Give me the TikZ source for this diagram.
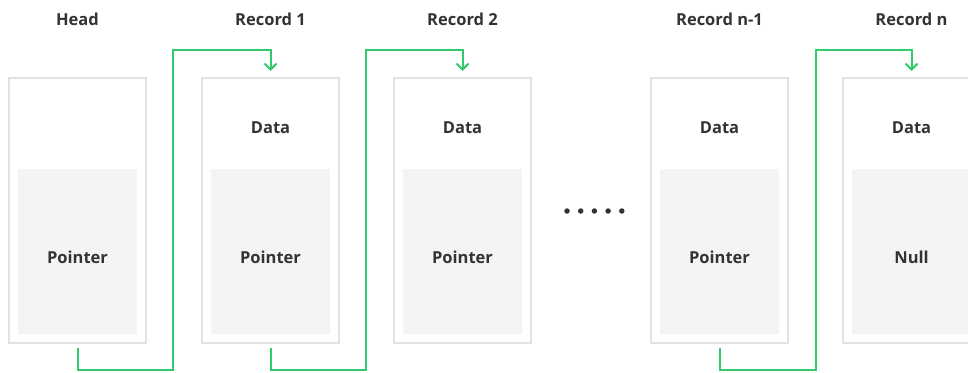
\documentclass[tikz,border=0pt]{standalone}
\usepackage{fontspec}
\setmainfont{Open Sans}
\usetikzlibrary{arrows.meta}
\definecolor{boxline}{HTML}{E2E2E2}
\definecolor{cellfill}{HTML}{F4F4F4}
\definecolor{linkgreen}{HTML}{2FCB6C}
\definecolor{ink}{HTML}{333333}
\tikzset{
  record/.style={draw=boxline, line width=1.8pt, fill=white, minimum width=137pt, minimum height=265pt, inner sep=0pt, outer sep=0pt},
  cell/.style={fill=cellfill, minimum width=119pt, minimum height=165pt, inner sep=0pt},
  lbl/.style={text=ink, font=\fontsize{16.5}{18}\selectfont\bfseries, anchor=base, inner sep=0pt},
  link/.style={draw=linkgreen, line width=2pt},
  linkarrow/.style={link, -{Straight Barb[length=6pt, width=12pt, line width=2pt]}},
  dot/.style={circle, fill=ink, minimum size=5.5pt, inner sep=0pt}
}
\begin{document}
\begin{tikzpicture}[x=1pt, y=-1pt]
\useasboundingbox (0,0) rectangle (968,372);
\begin{scope}
\clip (0,0) rectangle (968,372);
% records: left edge x positions; the shaded cell holds the pointer field
\foreach \name/\xl in {head/9, r1/202, r2/394, rn1/651, rn/843} {
  \node[record, anchor=north west] (\name) at (\xl,78) {};
  \node[cell, anchor=north] (\name c) at ([yshift=-91pt]\name.north) {};
}
\end{scope}

% titles
\node[lbl] (thead) at (head.north |- 0,25) {Head};
\node[lbl] (tr1)   at (r1.north |- 0,25) {Record 1};
\node[lbl] (tr2)   at (r2.north |- 0,25) {Record 2};
\node[lbl] (trn1)  at (rn1.north |- 0,25) {Record n-1};
\node[lbl] (trn)   at (rn.north |- 0,25) {Record n};

% field labels
\node[lbl] (dr1)  at (r1.north |- 0,133) {Data};
\node[lbl] (dr2)  at (r2.north |- 0,133) {Data};
\node[lbl] (drn1) at (rn1.north |- 0,133) {Data};
\node[lbl] (drn)  at (rn.north |- 0,133) {Data};
\node[lbl] (phead) at (head.north |- 0,263) {Pointer};
\node[lbl] (pr1)   at (r1.north |- 0,263) {Pointer};
\node[lbl] (pr2)   at (r2.north |- 0,263) {Pointer};
\node[lbl] (prn1)  at (rn1.north |- 0,263) {Pointer};
\node[lbl] (prn)   at (rn.north |- 0,263) {Null};

% ellipsis between record 2 and record n-1
\foreach \i in {0,...,4} {
  \node[dot] (dot\i) at (567+13.7*\i,211) {};
}

% links from each pointer to the next record
\foreach \from/\to/\mid in {head/r1/173, r1/r2/366, rn1/rn/816} {
  \draw[linkarrow] ([yshift=-5pt]\from.south) -- ++(0,22)
    -| (\mid,50) -| ([yshift=7pt]\to.north);
}
\end{tikzpicture}
\end{document}
